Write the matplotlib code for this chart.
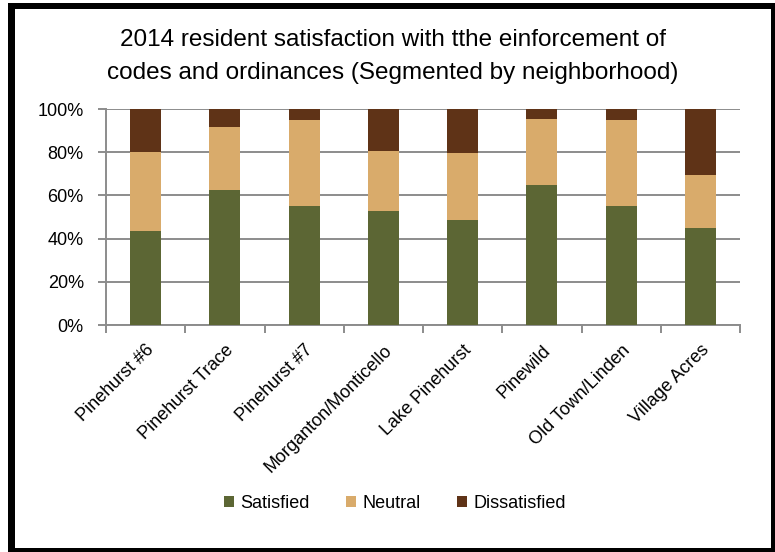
import matplotlib
matplotlib.use("Agg")
import matplotlib.pyplot as plt
from matplotlib import font_manager
from matplotlib.patches import Rectangle
from matplotlib.ticker import FixedLocator, PercentFormatter
import numpy as np

neighborhoods = ["Pinehurst #6", "Pinehurst Trace", "Pinehurst #7", "Morganton/Monticello",
                 "Lake Pinehurst", "Pinewild", "Old Town/Linden", "Village Acres"]
satisfied = [43.7, 62.3, 55.2, 52.9, 48.5, 64.7, 55.2, 44.8]
neutral = [36.2, 29.4, 39.7, 27.5, 31.3, 30.7, 39.7, 24.6]
dissatisfied = [20.1, 8.3, 5.1, 19.6, 20.2, 4.6, 5.1, 30.6]
series_names = ["Satisfied", "Neutral", "Dissatisfied"]
colors = ["#5C6634", "#D9AB6B", "#5F3317"]

available = {f.name for f in font_manager.fontManager.ttflist}
family = "Liberation Sans Narrow" if "Liberation Sans Narrow" in available else "Liberation Sans"
plt.rcParams["font.family"] = [family, "DejaVu Sans"]

W, H = 775, 552
fig = plt.figure(figsize=(W / 100, H / 100), dpi=100)
fig.patch.set_facecolor("white")


def frame_bar(px0, py0, px1, py1):
    """Black border strip given in pixel coordinates (origin top-left)."""
    fig.patches.append(Rectangle((px0 / W, 1 - py1 / H), (px1 - px0) / W, (py1 - py0) / H,
                                 transform=fig.transFigure, facecolor="black",
                                 edgecolor="none", zorder=10))


frame_bar(8, 3, 15, H)      # left
frame_bar(8, 3, W, 9)       # top
frame_bar(771, 3, W, H)     # right
frame_bar(8, 548, W, H)     # bottom

x0, x1, y0, y1 = 106, 740, 109, 325
ax = fig.add_axes([x0 / W, 1 - y1 / H, (x1 - x0) / W, (y1 - y0) / H])

x = np.arange(len(neighborhoods))
bottom = np.zeros(len(neighborhoods))
for name, vals, c in zip(series_names, [satisfied, neutral, dissatisfied], colors):
    ax.bar(x, vals, width=0.39, bottom=bottom, color=c, label=name, zorder=3)
    bottom += np.array(vals)

ax.set_xlim(-0.5, len(neighborhoods) - 0.5)
ax.set_ylim(0, 100)
ax.set_yticks(np.arange(0, 101, 20))
ax.yaxis.set_major_formatter(PercentFormatter(decimals=0))
ax.yaxis.grid(True, color="#8C8C8C", linewidth=1.4, zorder=0)
ax.set_axisbelow(True)

ax.set_xticks(x)
ax.set_xticklabels(neighborhoods, rotation=45, ha="right", rotation_mode="anchor", fontsize=13)
ax.tick_params(axis="x", which="major", length=0, pad=12)
ax.xaxis.set_minor_locator(FixedLocator(np.arange(-0.5, len(neighborhoods), 1.0)))
ax.tick_params(axis="x", which="minor", length=6, width=1.4, color="#8C8C8C")
ax.tick_params(axis="y", length=6, width=1.4, color="#8C8C8C", labelsize=13, pad=10)

for side in ["top", "right"]:
    ax.spines[side].set_visible(False)
for side in ["left", "bottom"]:
    ax.spines[side].set_color("#8C8C8C")
    ax.spines[side].set_linewidth(1.4)

fig.text(0.507, 1 - 40 / H, "2014 resident satisfaction with tthe einforcement of",
         ha="center", va="center", fontsize=17.5)
fig.text(0.507, 1 - 73 / H, "codes and ordinances (Segmented by neighborhood)",
         ha="center", va="center", fontsize=17.5)

fig.legend(loc="center", bbox_to_anchor=(395 / W, 1 - 503 / H), ncol=3, frameon=False,
           fontsize=13, handlelength=0.55, handleheight=0.55, columnspacing=2.0,
           handletextpad=0.35)

fig.savefig("out.png", dpi=100, facecolor="white")
